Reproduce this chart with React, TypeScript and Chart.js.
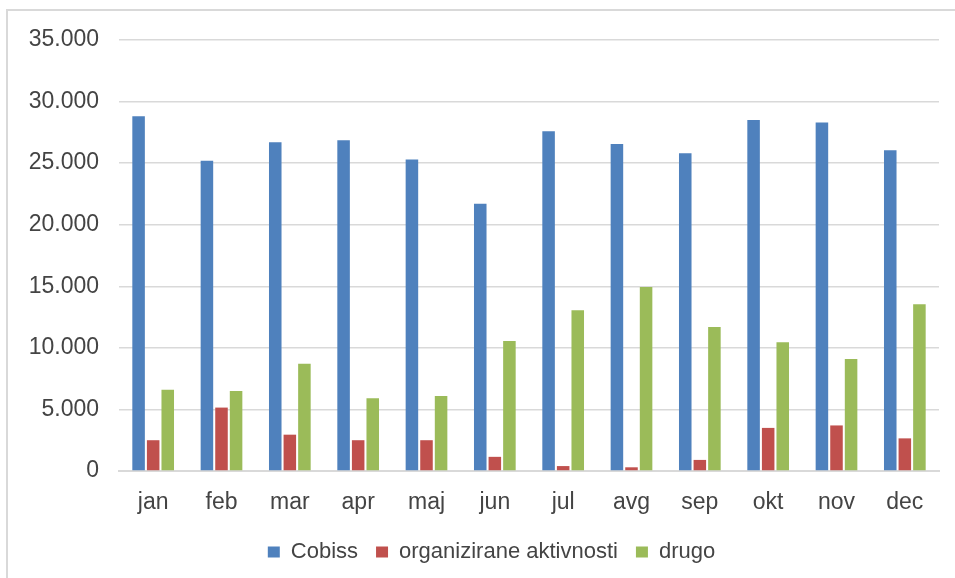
import React, { useEffect, useRef } from "react";
import { Chart, registerables } from "chart.js";

Chart.register(...registerables);

const months = ["jan", "feb", "mar", "apr", "maj", "jun", "jul", "avg", "sep", "okt", "nov", "dec"];
const cobiss = [28800, 25200, 26700, 26850, 25300, 21700, 27600, 26550, 25800, 28500, 28300, 26050];
const organizirane = [2500, 5150, 2950, 2500, 2500, 1150, 400, 300, 900, 3500, 3700, 2650];
const drugo = [6600, 6500, 8700, 5900, 6100, 10550, 13050, 14950, 11700, 10450, 9100, 13550];
const seriesNames = ["Cobiss", "organizirane aktivnosti", "drugo"];
const seriesColors = ["#4F81BD", "#C0504D", "#9BBB59"];

const fmt = (v: number) => String(v).replace(/\B(?=(\d{3})+(?!\d))/g, ".");

const W = 990;
const H = 578;

export default function App() {
  const ref = useRef<HTMLCanvasElement | null>(null);

  useEffect(() => {
    if (!ref.current) return;
    const font = "'Liberation Sans', Arial, sans-serif";
    const chart = new Chart(ref.current, {
      type: "bar",
      data: {
        labels: months,
        datasets: [cobiss, organizirane, drugo].map((d, i) => ({
          label: seriesNames[i],
          data: d,
          backgroundColor: seriesColors[i],
          borderWidth: 0,
          categoryPercentage: 0.64,
          barPercentage: 0.86,
          yAxisID: "y",
        })),
      },
      options: {
        responsive: false,
        animation: false,
        devicePixelRatio: 1,
        layout: { padding: { left: 20, right: 27, top: 40, bottom: 5 } },
        plugins: {
          tooltip: { enabled: false },
          legend: {
            position: "bottom",
            labels: {
              boxWidth: 12,
              boxHeight: 11,
              padding: 18,
              color: "#444444",
              font: { family: font, size: 22 },
            },
          },
        },
        scales: {
          x: {
            grid: { display: false, drawTicks: false },
            border: { display: true, color: "#d9d9d9", width: 2 },
            ticks: { color: "#444444", font: { family: font, size: 23 }, padding: 18 },
            afterFit: (s: any) => {
              s.height = 52;
            },
          },
          y: {
            position: "left",
            min: 0,
            max: 35000,
            grid: { color: "#d9d9d9", lineWidth: 1.5, drawTicks: false },
            border: { display: false },
            ticks: {
              stepSize: 5000,
              color: "#444444",
              font: { family: font, size: 23 },
              padding: 20,
              callback: (v: any) => fmt(Number(v)),
            },
            afterFit: (s: any) => {
              s.width = 99;
            },
          },
          y2: {
            position: "right",
            display: true,
            grid: { display: false, drawTicks: false },
            border: { display: false },
            ticks: { display: false },
            afterFit: (s: any) => {
              s.width = 24;
            },
          },
        },
      },
    });
    return () => chart.destroy();
  }, []);

  return (
    <div style={{ position: "absolute", left: 0, top: 0, width: 955, height: 578, overflow: "hidden", background: "#fff" }}>
      <div
        style={{
          position: "absolute",
          left: 6,
          top: 9,
          width: 1000,
          height: 1000,
          border: "2px solid #d9d9d9",
        }}
      />
      <canvas ref={ref} width={W} height={H} style={{ position: "absolute", left: 0, top: 0, width: W, height: H }} />
    </div>
  );
}
